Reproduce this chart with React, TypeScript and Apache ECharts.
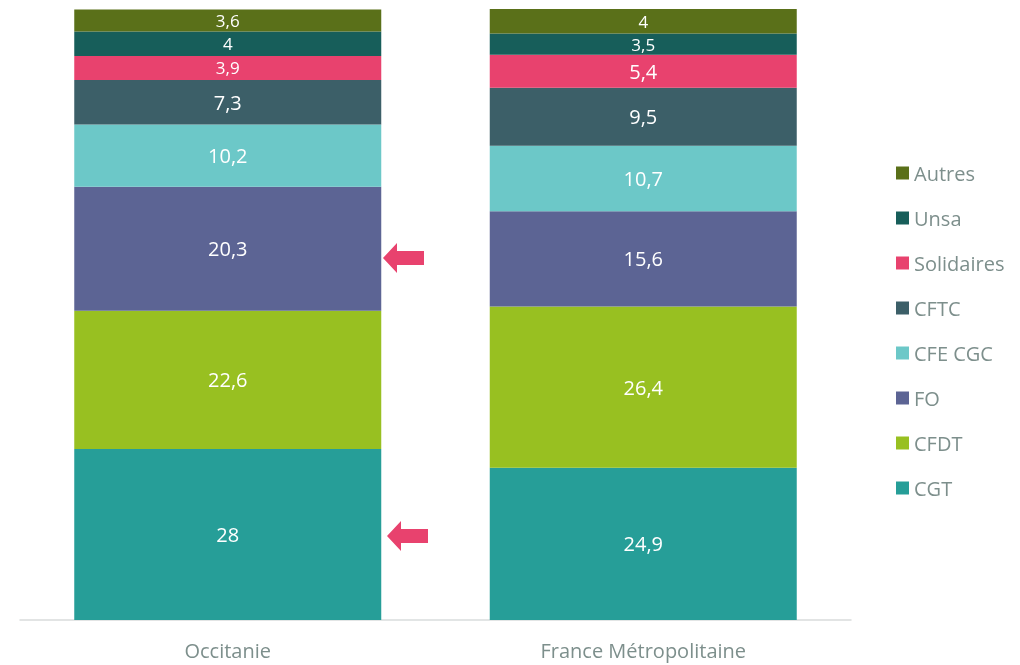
import React, { useEffect, useRef } from "react";
import * as echarts from "echarts";

const categories = ["Occitanie", "France Métropolitaine"];
const seriesNames = ["CGT", "CFDT", "FO", "CFE CGC", "CFTC", "Solidaires", "Unsa", "Autres"];
const cgt = [28, 24.9];
const cfdt = [22.6, 26.4];
const fo = [20.3, 15.6];
const cfeCgc = [10.2, 10.7];
const cftc = [7.3, 9.5];
const solidaires = [3.9, 5.4];
const unsa = [4, 3.5];
const autres = [3.6, 4];
const colors = ["#269e98", "#98c021", "#5c6494", "#6cc8c8", "#3c5f68", "#e8426e", "#175e5a", "#5a7019"];
const FONT = "'Open Sans', sans-serif";

export default function App() {
  const ref = useRef<HTMLDivElement>(null);
  useEffect(() => {
    if (!ref.current) return;
    const chart = echarts.init(ref.current, undefined, { renderer: "svg" });
    const values = [cgt, cfdt, fo, cfeCgc, cftc, solidaires, unsa, autres];
    chart.setOption({
      animation: false,
      grid: { left: 20, right: 169, top: 9, bottom: 45, containLabel: false },
      legend: {
        orient: "vertical",
        left: 891,
        top: 158,
        itemWidth: 13,
        itemHeight: 13,
        itemGap: 25,
        icon: "rect",
        data: seriesNames.slice().reverse(),
        textStyle: { fontFamily: FONT, fontSize: 20, color: "#7d8f8c" },
      },
      xAxis: {
        type: "category",
        data: categories,
        axisLine: { lineStyle: { color: "#d9dcdc", width: 1.5 } },
        axisTick: { show: false },
        axisLabel: { fontFamily: FONT, fontSize: 20, color: "#7d8f8c", margin: 20 },
      },
      yAxis: { type: "value", min: 0, max: 100, show: false, splitLine: { show: false } },
      series: seriesNames.map((name, i) => ({
        name,
        type: "bar",
        stack: "total",
        barWidth: 307,
        data: values[i].map((v) => (v < 5 ? { value: v, label: { fontSize: 17, lineHeight: 17 } } : v)),
        itemStyle: { color: colors[i] },
        label: {
          show: true,
          position: "inside",
          color: "#ffffff",
          fontFamily: FONT,
          fontSize: 20,
          formatter: (p: any) => String(p.value).replace(".", ","),
        },
      })),
      graphic: [
        {
          type: "polygon",
          shape: { points: [[383, 258], [397, 243], [397, 251], [424, 251], [424, 265], [397, 265], [397, 273]] },
          style: { fill: "#e8426e" },
        },
        {
          type: "polygon",
          shape: { points: [[387, 536], [401, 521], [401, 529], [428, 529], [428, 543], [401, 543], [401, 551]] },
          style: { fill: "#e8426e" },
        },
      ],
    });
    return () => chart.dispose();
  }, []);
  return <div ref={ref} style={{ position: "fixed", left: 0, top: 0, width: 1020, height: 665 }} />;
}
